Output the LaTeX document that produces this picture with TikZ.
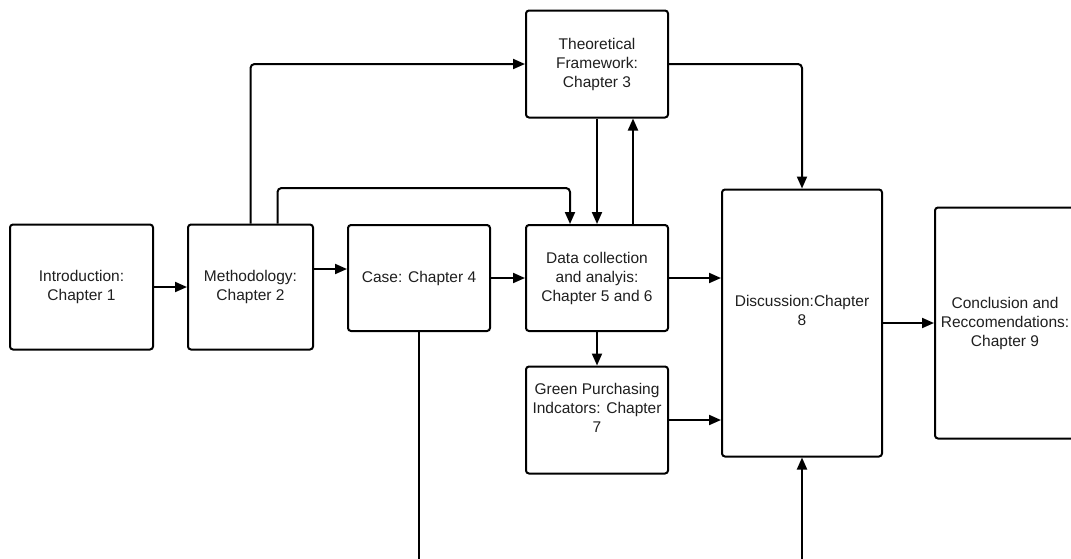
\documentclass[tikz,border=0pt]{standalone}
\usepackage{fontspec}
\setmainfont{Liberation Sans}
\usetikzlibrary{arrows.meta,calc}
\begin{document}
\begin{tikzpicture}[x=1pt,y=-1pt,
  box/.style={draw=black,line width=2pt,rounded corners=3pt,align=center,
    font=\fontsize{15.5}{19}\selectfont,text=black!88,inner sep=2pt},
  arr/.style={line width=2pt,rounded corners=4pt,-{Triangle[length=12pt,width=10pt]}},
  ln/.style={line width=2pt}]
\useasboundingbox[fill=white] (0,0) rectangle (1071,558);
\node[box,minimum width=143pt,minimum height=125pt] (intro) at (81.5,287) {Introduction:\\Chapter 1};
\node[box,minimum width=125pt,minimum height=125pt] (meth) at (250.5,287) {Methodology:\\Chapter 2};
\node[box,minimum width=142pt,minimum height=106pt] (case) at (419,278) {Case: Chapter 4};
\node[box,minimum width=142pt,minimum height=106pt] (data) at (597,278) {Data collection\\and analyis:\\Chapter 5 and 6};
\node[box,minimum width=142pt,minimum height=107pt] (theo) at (597,64) {Theoretical\\Framework:\\Chapter 3};
\node[box,minimum width=142pt,minimum height=107pt] (green) at (597,420) {Green Purchasing\\Indcators: Chapter\\7\\[6pt]};
\node[box,minimum width=160pt,minimum height=267pt] (disc) at (802,323) {Discussion:Chapter\\8\\[6pt]};
\node[box,minimum width=140pt,minimum height=231pt] (concl) at (1005,323) {Conclusion and\\Reccomendations:\\Chapter 9};
\coordinate (cb) at (419,560);
\coordinate (db) at (802,560);
% connectors
\draw[arr] (intro.east) -- (meth.west);
\draw[arr] ([yshift=18pt]meth.east) -- ([yshift=18pt]meth.east -| case.west);
\draw[arr] (meth.north) |- (theo.west);
\draw[arr] ([xshift=27pt]meth.north) |- ([xshift=-27pt,yshift=36pt]data.north) -- ([xshift=-27pt]data.north);
\draw[arr] (case.east) -- (data.west);
\draw[arr] (theo.south) -- (data.north);
\draw[arr] ([xshift=36pt]data.north) -- ([xshift=36pt]theo.south);
\draw[arr] (theo.east) -| (disc.north);
\draw[arr] (data.east) -- (data.east -| disc.west);
\draw[arr] (data.south) -- (green.north);
\draw[arr] (green.east) -- (green.east -| disc.west);
\draw[arr] (disc.east) -- (concl.west);
\draw[ln] (case.south) -- (cb);
\draw[arr] (db) -- (disc.south);
\end{tikzpicture}
\end{document}
